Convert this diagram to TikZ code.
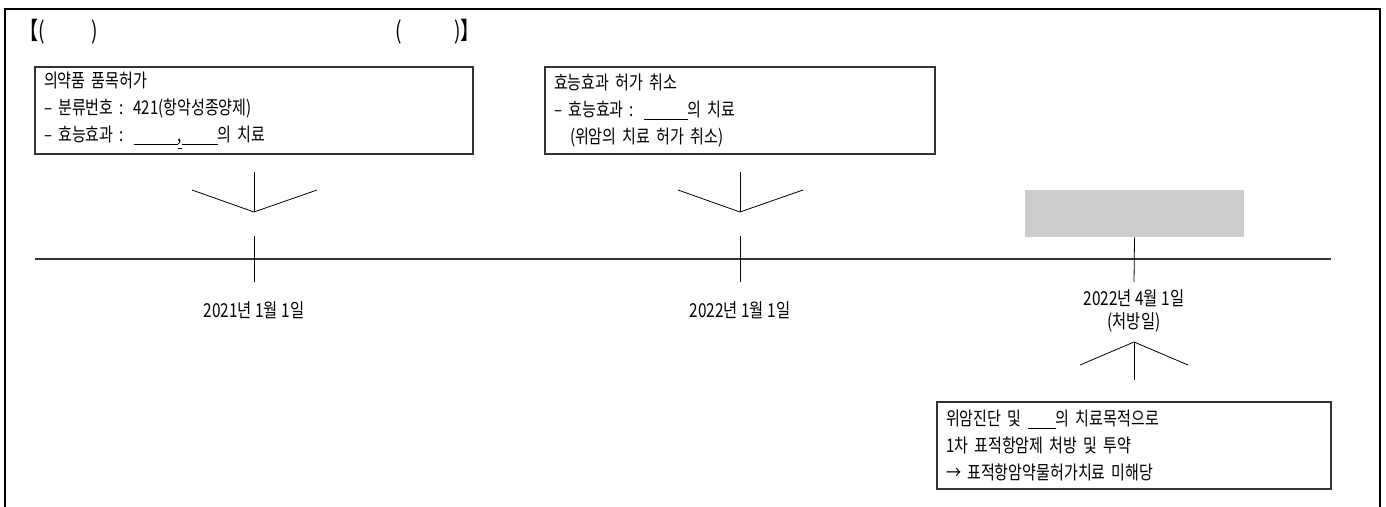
\documentclass[tikz,border=0pt]{standalone}
\usepackage{fontspec}
\setmainfont{Noto Sans CJK KR}[FakeStretch=0.8]
\definecolor{boxgray}{HTML}{CCCCCC}
\definecolor{linegray}{HTML}{333333}
\tikzset{
  evbox/.style={draw=linegray, line width=0.7pt, inner xsep=4.5pt, inner ysep=0pt,
    minimum height=43.5pt, align=left, font=\fontsize{9.4}{13.6}\selectfont},
  datelbl/.style={align=center, font=\fontsize{9.6}{11.5}\selectfont}
}
\newcommand{\blank}[1]{\underline{\hspace{#1}}}
\begin{document}
\begin{tikzpicture}[x=0.5pt,y=-0.5pt]
\useasboundingbox (0,0) rectangle (1386,507);

% outer frame (open at the bottom)
\draw[line width=0.8pt] (5,507) |- (1380,9) -- (1380,507);

% title
\node[anchor=west, inner sep=0pt, font=\fontsize{12}{14}\selectfont] (ttl) at (19,32)
  {【(\hspace{23pt})\hspace{149pt}(\hspace{26pt})】};

% boxes
\node[evbox, text width=210pt] (b1) at (254,110.5)
  {의약품 품목허가\\
   – 분류번호 : 421(항악성종양제)\\
   – 효능효과 : \blank{22pt}\underline{,}\blank{18pt}의 치료};
\node[evbox, text width=186pt] (b2) at (740,110.5)
  {효능효과 허가 취소\\
   – 효능효과 : \blank{22pt}의 치료\\
   \hspace*{8pt}(위암의 치료 허가 취소)};
\node[evbox, text width=188pt] (b3) at (1134,445.5)
  {위암진단 및 \blank{14pt}의 치료목적으로\\
   1차 표적항암제 처방 및 투약\\
   → 표적항암약물허가치료 미해당};

% timeline
\draw[linegray, line width=0.7pt] (35,259) -- (1331,259);

% first date
\draw (254,172) -- (254,212);
\draw (192,190) -- (254,212) -- (317,190);
\draw (254,236) -- (254,282);
\node[datelbl] (d1) at (254,310) {2021년 1월 1일};

% second date
\draw (740,172) -- (740,212);
\draw (678,190) -- (740,212) -- (803,190);
\draw (740,236) -- (740,282);
\node[datelbl] (d2) at (740,310) {2022년 1월 1일};

% third date
\node[fill=boxgray, minimum width=109.5pt, minimum height=23.5pt, inner sep=0pt] (rx) at (1134.5,213.5) {};
\draw (rx.south) -- (1134,282);
\node[datelbl] (d3) at (1134,311) {2022년 4월 1일\\(처방일)};
\draw (1080,365) -- (1134,342) -- (1188,365);
\draw (1134,342) -- (1134,380);
\end{tikzpicture}
\end{document}
